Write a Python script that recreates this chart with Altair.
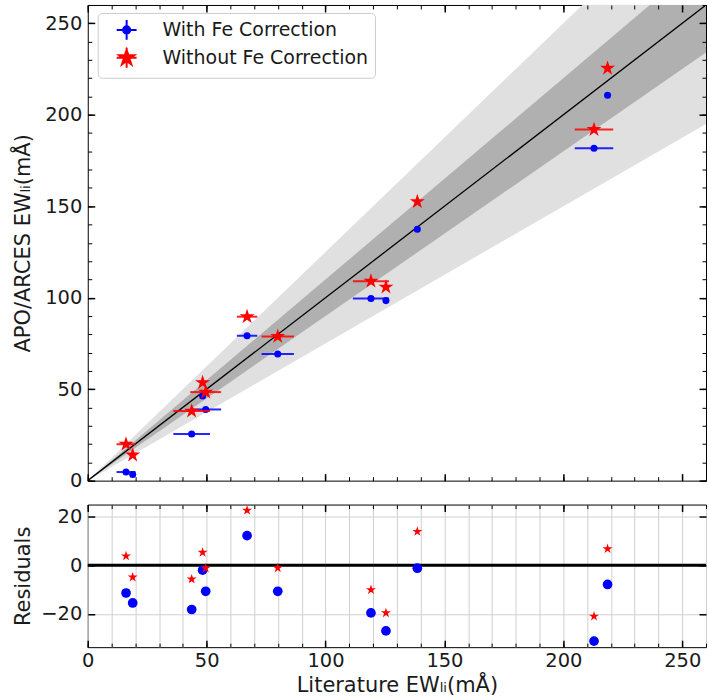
import math
import altair as alt
import pandas as pd

# ---------------- data ----------------
SERIES = ["With Fe Correction", "Without Fe Correction"]
lit = [16.1, 18.9, 43.7, 48.3, 49.6, 67.0, 79.9, 119.1, 125.4, 138.6, 212.9, 218.6]
lit_err = [4.0, 0.0, 7.7, 0.0, 6.5, 4.3, 6.8, 7.6, 0.0, 0.0, 8.1, 0.0]
apo_fe = [4.7, 3.4, 25.5, 46.3, 38.9, 79.2, 69.2, 99.5, 98.4, 137.4, 181.7, 210.7]
apo_nofe = [19.9, 14.0, 38.0, 53.6, 48.4, 89.6, 78.8, 109.0, 105.8, 152.5, 191.9, 225.4]
resid_fe = [-11.4, -15.5, -18.2, -2.0, -10.7, 12.2, -10.7, -19.6, -27.0, -1.2, -31.2, -7.9]
resid_nofe = [3.8, -4.9, -5.7, 5.3, -1.2, 22.6, -1.1, -10.1, -19.6, 13.9, -21.0, 6.8]

band_x = [0, 260]          # extent of the one-to-one line and bands
BAND_INNER = 0.10          # +-10 % band
BAND_OUTER = 0.25          # +-25 % band
zero_level = [0]

X_DOM = [0, 260]
Y_DOM = [0, 260]
R_DOM = [-33.7, 25]
X_MAJOR = [0, 50, 100, 150, 200, 250]
X_MINOR = list(range(0, 261, 10))
Y_MAJOR = [0, 50, 100, 150, 200, 250]
Y_MINOR = list(range(0, 261, 10))
R_MAJOR = [-20, 0, 20]

# ---------------- style ----------------
FONT = "DejaVu Sans"
BLUE = "#0000ff"
RED = "#ff0000"
LIGHT = "#e0e0e0"
DARK = "#b0b0b0"
YTITLE = "APO/ARCES EWₗᵢ(mÅ)"
XTITLE = "Literature EWₗᵢ(mÅ)"

W = 620
H_TOP = 477
H_BOT = 143
TITLE_X = -61


def star_path(R, r):
    pts = []
    for k in range(10):
        a = math.radians(-90 + 36 * k)
        rad = R if k % 2 == 0 else r
        pts.append(f"{rad * math.cos(a):.3f},{rad * math.sin(a):.3f}")
    return "M" + "L".join(pts) + "Z"


STAR = star_path(1.0, 0.382)
CROSS = "M-1,0L1,0M0,-1L0,1"
CIRC = "M0.36,0A0.36,0.36 0 1,1 -0.36,0A0.36,0.36 0 1,1 0.36,0Z"
P_FE = CROSS + CIRC
P_NOFE = CROSS + star_path(0.8, 0.8 * 0.382)


def tick_axis(orient, values, length, width, labels=False, title=None, **extra):
    return alt.Axis(orient=orient, values=values, tickSize=length, offset=-length,
                    tickWidth=width, tickColor="black", labels=labels, domain=False,
                    grid=False, title=title, zindex=2, labelFlush=False,
                    labelOverlap=False, **extra)


def grid_axis(orient, values):
    return alt.Axis(orient=orient, values=values, ticks=False, labels=False,
                    domain=False, grid=True, gridColor="#d0d0d0", gridWidth=1,
                    title=None, zindex=0)


xs = alt.Scale(domain=X_DOM, nice=False, zero=False)
ys = alt.Scale(domain=Y_DOM, nice=False, zero=False)
rs = alt.Scale(domain=R_DOM, nice=False, zero=False)

fe_df = pd.DataFrame({"lit": lit, "err": lit_err, "apo": apo_fe, "res": resid_fe,
                      "series": SERIES[0]})
nofe_df = pd.DataFrame({"lit": lit, "err": lit_err, "apo": apo_nofe, "res": resid_nofe,
                        "series": SERIES[1]})
both_df = pd.concat([fe_df, nofe_df], ignore_index=True)
band_df = pd.DataFrame({"x": band_x})
zero_df = pd.DataFrame({"x0": [X_DOM[0]], "x1": [X_DOM[1]], "y": zero_level})

legend = alt.Legend(
    title=None, orient="none", legendX=10, legendY=8, direction="vertical",
    fillColor="white", strokeColor="#cccccc", cornerRadius=4, padding=6,
    labelFont=FONT, labelFontSize=19, labelColor="#1a1a1a", labelOffset=25,
    labelLimit=0, symbolOffset=12, symbolSize=400, symbolOpacity=1,
    symbolStrokeWidth=2, rowPadding=0,
)
ser_scale = alt.Scale(domain=SERIES, range=[BLUE, RED])

# ---------------- top panel ----------------
light = alt.Chart(band_df).transform_calculate(
    lo=f"datum.x * (1 - {BAND_OUTER})", hi=f"datum.x * (1 + {BAND_OUTER})"
).mark_area(color=LIGHT, clip=True).encode(
    x=alt.X("x:Q", scale=xs, axis=tick_axis("bottom", X_MAJOR, 7, 1.5)),
    y=alt.Y("lo:Q", scale=ys, axis=tick_axis(
        "left", Y_MAJOR, 7, 1.5, labels=True, title=YTITLE, labelPadding=6,
        titleX=TITLE_X, titleY=H_TOP / 2, titleAngle=270, titleBaseline="bottom",
        titleAlign="center")),
    y2="hi:Q",
)
dark = alt.Chart(band_df).transform_calculate(
    lo=f"datum.x * (1 - {BAND_INNER})", hi=f"datum.x * (1 + {BAND_INNER})"
).mark_area(color=DARK, clip=True).encode(
    x=alt.X("x:Q", scale=xs, axis=tick_axis("bottom", X_MINOR, 4, 1)),
    y=alt.Y("lo:Q", scale=ys, axis=tick_axis("left", Y_MINOR, 4, 1)),
    y2="hi:Q",
)
one2one = alt.Chart(band_df).transform_calculate(y="datum.x").mark_line(
    color="black", strokeWidth=1.3, clip=True
).encode(
    x=alt.X("x:Q", scale=xs, axis=tick_axis("top", X_MAJOR, 7, 1.5)),
    y=alt.Y("y:Q", scale=ys, axis=tick_axis("right", Y_MAJOR, 7, 1.5)),
)
fe_err = alt.Chart(fe_df).transform_calculate(
    lo="datum.lit - datum.err", hi="datum.lit + datum.err"
).mark_rule(color=BLUE, strokeWidth=2, opacity=0.85).encode(
    x=alt.X("lo:Q", scale=xs, axis=tick_axis("top", X_MINOR, 4, 1)),
    x2="hi:Q",
    y=alt.Y("apo:Q", scale=ys, axis=tick_axis("right", Y_MINOR, 4, 1)),
)
fe_pts = alt.Chart(fe_df).mark_point(shape="circle", filled=True, size=50, opacity=1,
                                     color=BLUE).encode(
    x=alt.X("lit:Q", scale=xs, axis=None),
    y=alt.Y("apo:Q", scale=ys, axis=None),
)
nofe_err = alt.Chart(nofe_df).transform_calculate(
    lo="datum.lit - datum.err", hi="datum.lit + datum.err"
).mark_rule(color=RED, strokeWidth=2, opacity=0.85).encode(
    x=alt.X("lo:Q", scale=xs, axis=None),
    x2="hi:Q",
    y=alt.Y("apo:Q", scale=ys, axis=None),
)
nofe_pts = alt.Chart(nofe_df).mark_point(shape=STAR, filled=True, size=250, opacity=1,
                                         color=RED).encode(
    x=alt.X("lit:Q", scale=xs, axis=None),
    y=alt.Y("apo:Q", scale=ys, axis=None),
)
# invisible layer that only provides the legend (errorbar cross + marker symbols)
legend_layer = alt.Chart(both_df).mark_point(filled=True, opacity=0).encode(
    x=alt.X("lit:Q", scale=xs, axis=None),
    y=alt.Y("apo:Q", scale=ys, axis=None),
    fill=alt.Fill("series:N", scale=ser_scale, legend=legend),
    stroke=alt.Stroke("series:N", scale=ser_scale, legend=legend),
    shape=alt.Shape("series:N", scale=alt.Scale(domain=SERIES, range=[P_FE, P_NOFE]),
                    legend=legend),
)
top = alt.layer(light, dark, one2one, fe_err, fe_pts, nofe_err, nofe_pts,
                legend_layer).resolve_axis(
    x="independent", y="independent"
).properties(width=W, height=H_TOP)

# ---------------- residual panel ----------------
grid_layer = alt.Chart(fe_df).mark_point(opacity=0).encode(
    x=alt.X("lit:Q", scale=xs, axis=grid_axis("bottom", X_MINOR)),
    y=alt.Y("res:Q", scale=rs, axis=grid_axis("left", R_MAJOR)),
)
zero_line = alt.Chart(zero_df).mark_rule(color="black", strokeWidth=3).encode(
    x=alt.X("x0:Q", scale=xs, axis=tick_axis(
        "bottom", X_MAJOR, 7, 1.5, labels=True, title=XTITLE, labelPadding=4,
        titlePadding=5)),
    x2="x1:Q",
    y=alt.Y("y:Q", scale=rs, axis=tick_axis(
        "left", R_MAJOR, 7, 1.5, labels=True, title="Residuals", labelPadding=6,
        titleX=TITLE_X, titleY=H_BOT / 2, titleAngle=270, titleBaseline="bottom",
        titleAlign="center")),
)
fe_res = alt.Chart(fe_df).mark_point(shape="circle", filled=True, size=95, opacity=1,
                                     color=BLUE).encode(
    x=alt.X("lit:Q", scale=xs, axis=tick_axis("bottom", X_MINOR, 4, 1)),
    y=alt.Y("res:Q", scale=rs, axis=tick_axis("right", R_MAJOR, 7, 1.5)),
)
nofe_res = alt.Chart(nofe_df).mark_point(shape=STAR, filled=True, size=110, opacity=1,
                                         color=RED).encode(
    x=alt.X("lit:Q", scale=xs, axis=tick_axis("top", X_MAJOR, 7, 1.5)),
    y=alt.Y("res:Q", scale=rs, axis=None),
)
carrier = alt.Chart(fe_df).mark_point(opacity=0).encode(
    x=alt.X("lit:Q", scale=xs, axis=tick_axis("top", X_MINOR, 4, 1)),
    y=alt.Y("res:Q", scale=rs, axis=None),
)
bottom = alt.layer(grid_layer, zero_line, fe_res, nofe_res, carrier).resolve_axis(
    x="independent", y="independent"
).properties(width=W, height=H_BOT)

chart = alt.vconcat(top, bottom, spacing=12).resolve_scale(
    x="independent", y="independent", fill="independent", stroke="independent",
    shape="independent"
).properties(
    padding={"left": 12, "top": 2, "right": 1, "bottom": 1},
    background="white",
).configure_view(
    stroke="black", strokeWidth=1
).configure_axis(
    labelFont=FONT, titleFont=FONT, labelFontSize=19.5, titleFontSize=21,
    labelColor="#1a1a1a", titleColor="#1a1a1a", titleFontWeight="normal",
)

chart.save("out.html", embed_options={"renderer": "svg", "actions": False})
